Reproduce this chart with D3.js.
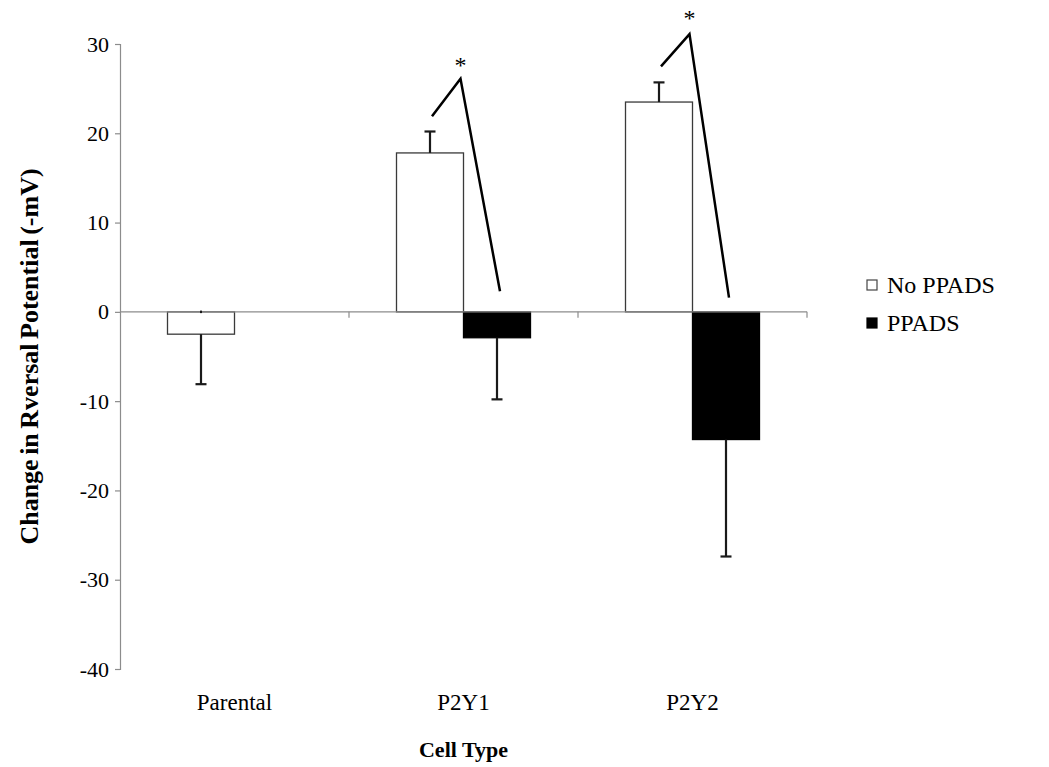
<!DOCTYPE html>
<html>
<head>
<meta charset="utf-8">
<script src="https://cdn.jsdelivr.net/npm/d3@7"></script>
<style>
  html, body { margin: 0; padding: 0; background: #fff; }
  svg { display: block; }
  text { font-family: "Liberation Serif", "Times New Roman", serif; fill: #000; }
</style>
</head>
<body>
<svg id="chart" width="1049" height="767"></svg>
<script>
// Cell types and treatment series
const categories = ["Parental", "P2Y1", "P2Y2"];
const series = ["No PPADS", "PPADS"];

// Mean change in reversal potential (-mV); null = not measured
const noPpadsMean = [-2.5, 17.8, 23.5];
const ppadsMean   = [null, -2.9, -14.3];

// Error bar lengths (drawn away from zero)
const noPpadsErr = [5.6, 2.4, 2.2];
const ppadsErr   = [null, 6.9, 13.1];

// Y axis ticks
const yTicks = [30, 20, 10, 0, -10, -20, -30, -40];

// Significance markers: group, bracket start / peak / end levels, star level
const sigGroups = ["P2Y1", "P2Y2"];
const sigStart  = [21.9, 27.5];
const sigPeak   = [26.1, 31.1];
const sigEnd    = [2.3, 1.6];
const sigStar   = [28.0, 33.3];

const svg = d3.select("#chart");
const axisGrey = "#8c8c8c";
const serif = "'Liberation Serif', 'Times New Roman', serif";

const y = d3.scaleLinear().domain([-40, 30]).range([669, 44]);
const x0 = d3.scaleBand().domain(categories).range([120, 807]).paddingInner(0).paddingOuter(0);
const x1 = d3.scaleBand().domain(series).range([0, x0.bandwidth()]).paddingInner(0).paddingOuter(0.709);

const rows = [];
categories.forEach((c, i) => {
  rows.push({ cat: c, s: series[0], v: noPpadsMean[i], e: noPpadsErr[i] });
  rows.push({ cat: c, s: series[1], v: ppadsMean[i], e: ppadsErr[i] });
});
const valid = rows.filter(d => d.v !== null);

// Y axis (plain hyphen for negatives)
const yAxis = d3.axisLeft(y).tickValues(yTicks).tickSize(5).tickPadding(6).tickFormat(d => String(d));
const gy = svg.append("g").attr("transform", "translate(120,0)").call(yAxis);
gy.attr("font-family", null);
gy.select(".domain").attr("stroke", axisGrey).attr("stroke-width", 1.2);
gy.selectAll(".tick line").attr("stroke", axisGrey).attr("stroke-width", 1.2);
gy.selectAll(".tick text")
  .style("font-family", serif)
  .style("font-size", "22px")
  .attr("fill", "#000");

// Bars
svg.append("g").selectAll("rect").data(valid).join("rect")
  .attr("x", d => x0(d.cat) + x1(d.s))
  .attr("width", x1.bandwidth())
  .attr("y", d => y(Math.max(0, d.v)))
  .attr("height", d => Math.abs(y(d.v) - y(0)))
  .attr("fill", d => d.s === "PPADS" ? "#000" : "#fff")
  .attr("stroke", d => d.s === "PPADS" ? "#000" : "#3a3a3a")
  .attr("stroke-width", 1.3);

// X axis at zero, with ticks at category boundaries
const xAxisG = svg.append("g").attr("transform", `translate(0,${y(0)})`);
xAxisG.append("line")
  .attr("x1", x0.range()[0]).attr("x2", x0.range()[1])
  .attr("stroke", axisGrey).attr("stroke-width", 1.2);
const bounds = categories.map(c => x0(c) + x0.bandwidth());
xAxisG.selectAll("line.tk").data(bounds).join("line").attr("class", "tk")
  .attr("x1", d => d).attr("x2", d => d).attr("y1", 0).attr("y2", 6)
  .attr("stroke", axisGrey).attr("stroke-width", 1.2);

// Error bars
const cx = d => x0(d.cat) + x1(d.s) + x1.bandwidth() / 2;
const tip = d => d.v >= 0 ? d.v + d.e : d.v - d.e;
const eg = svg.append("g").attr("stroke", "#1a1a1a").attr("stroke-width", 2.2);
eg.selectAll("line.stem").data(valid).join("line").attr("class", "stem")
  .attr("x1", cx).attr("x2", cx)
  .attr("y1", d => y(d.v)).attr("y2", d => y(tip(d)));
eg.selectAll("line.cap").data(valid).join("line").attr("class", "cap")
  .attr("x1", d => cx(d) - 5.5).attr("x2", d => cx(d) + 5.5)
  .attr("y1", d => y(tip(d))).attr("y2", d => y(tip(d)));
// zero-length opposite whisker shows as a small nub on the axis
eg.selectAll("line.nub").data(valid.filter(d => d.v < 0 && d.s === series[0])).join("line").attr("class", "nub")
  .attr("x1", d => cx(d) - 1).attr("x2", d => cx(d) + 1)
  .attr("y1", y(0)).attr("y2", y(0))
  .attr("stroke-width", 2.5);

// Category labels
svg.append("g").selectAll("text").data(categories).join("text")
  .attr("x", d => x0(d) + x0.bandwidth() / 2)
  .attr("y", 710)
  .attr("text-anchor", "middle")
  .style("font-size", "23px")
  .text(d => d);

// Significance brackets
const line = d3.line();
sigGroups.forEach((g, i) => {
  const wx = x0(g) + x1(series[0]) + x1.bandwidth() / 2 + 2;
  const mid = x0(g) + x1(series[1]) - 3;
  const bx = x0(g) + x1(series[1]) + x1.bandwidth() / 2 + 3;
  svg.append("path")
    .attr("d", line([[wx, y(sigStart[i])], [mid, y(sigPeak[i])], [bx, y(sigEnd[i])]]))
    .attr("fill", "none").attr("stroke", "#000").attr("stroke-width", 2.5)
    .attr("stroke-linejoin", "miter");
  svg.append("text")
    .attr("x", mid).attr("y", y(sigStar[i]) + 11)
    .attr("text-anchor", "middle")
    .style("font-size", "24px")
    .attr("fill", "#333")
    .text("*");
});

// Axis titles
svg.append("text")
  .attr("transform", `translate(38,${(y(30) + y(-40)) / 2}) rotate(-90)`)
  .attr("text-anchor", "middle")
  .style("font-size", "26px").style("font-weight", "bold")
  .style("word-spacing", "-2px")
  .text("Change in Rversal Potential (-mV)");

svg.append("text")
  .attr("x", (x0.range()[0] + x0.range()[1]) / 2)
  .attr("y", 757)
  .attr("text-anchor", "middle")
  .style("font-size", "22px").style("font-weight", "bold")
  .text("Cell Type");

// Legend
const legend = svg.append("g").attr("transform", "translate(867,280)");
series.forEach((s, i) => {
  const g = legend.append("g").attr("transform", `translate(0,${i * 38})`);
  g.append("rect").attr("x", 0).attr("y", 0).attr("width", 10).attr("height", 10)
    .attr("fill", s === "PPADS" ? "#000" : "#fff")
    .attr("stroke", s === "PPADS" ? "#000" : "#444").attr("stroke-width", 1.2);
  g.append("text").attr("x", 20).attr("y", 13)
    .style("font-size", "24px")
    .text(s);
});
</script>
</body>
</html>
